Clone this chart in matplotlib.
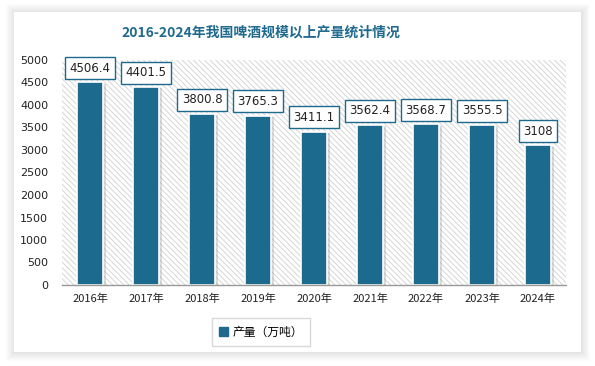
import matplotlib
matplotlib.use("Agg")
import matplotlib.pyplot as plt
from matplotlib.patches import Rectangle
import matplotlib.patches as mpatches
import matplotlib.patheffects as pe

plt.rcParams['font.family'] = ['Noto Sans CJK SC', 'DejaVu Sans']
plt.rcParams['hatch.linewidth'] = 0.7
plt.rcParams['hatch.color'] = '#d6d6d6'

years = ['2016年', '2017年', '2018年', '2019年', '2020年', '2021年', '2022年', '2023年', '2024年']
output = [4506.4, 4401.5, 3800.8, 3765.3, 3411.1, 3562.4, 3568.7, 3555.5, 3108]
labels = ['4506.4', '4401.5', '3800.8', '3765.3', '3411.1', '3562.4', '3568.7', '3555.5', '3108']
yticks = [0, 500, 1000, 1500, 2000, 2500, 3000, 3500, 4000, 4500, 5000]
title = '2016-2024年我国啤酒规模以上产量统计情况'
legend_label = '产量（万吨）'

bar_color = '#1c6a8e'
W, H = 595, 366
fig = plt.figure(figsize=(W/100, H/100), dpi=100)
fig.patch.set_facecolor('white')

# card with soft shadow
cx0, cy0, cx1, cy1 = 14, 12, 581, 352
for d in range(9, 0, -1):
    fig.patches.append(Rectangle(((cx0 - d + 1)/W, (H - cy1 - d)/H), (cx1 - cx0 + 2*d - 1)/W,
                                 (cy1 - cy0 + 2*d - 1)/H,
                                 transform=fig.transFigure, facecolor='black', alpha=0.012,
                                 edgecolor='none', zorder=-2))
fig.patches.append(Rectangle((cx0/W, (H-cy1)/H), (cx1-cx0)/W, (cy1-cy0)/H, transform=fig.transFigure,
                             facecolor='white', edgecolor='none', zorder=-1))

left, right, bottom, top = 62, 566, 285, 60
ax = fig.add_axes([left/W, (H-bottom)/H, (right-left)/W, (bottom-top)/H])
ax.set_zorder(1)
ax.set_facecolor('white')
ax.add_patch(Rectangle((0, 0), 1, 1, transform=ax.transAxes, facecolor='white',
                       hatch='\\\\\\\\\\\\', edgecolor='#d6d6d6', linewidth=0, zorder=0))

x = list(range(len(years)))
bars = ax.bar(x, output, width=0.46, color=bar_color, edgecolor='white', linewidth=1.2, zorder=2)
for b in bars:
    b.set_path_effects([pe.SimplePatchShadow(offset=(2, -1), shadow_rgbFace='#9a9a9a', alpha=0.35),
                        pe.Normal()])
for xi, v, lab in zip(x, output, labels):
    ax.annotate(lab, xy=(xi, v), xytext=(0, 5.5), textcoords='offset points',
                ha='center', va='bottom', fontsize=8.5, color='#222222',
                family=['DejaVu Sans'],
                bbox=dict(boxstyle='square,pad=0.38', facecolor='white', edgecolor='#1c6a8e', linewidth=1.0),
                zorder=3)

ax.set_xlim(-0.5, len(years) - 0.5)
ax.set_ylim(0, 5000)
ax.set_yticks(yticks)
ax.set_yticklabels([str(t) for t in yticks], fontsize=8, color='#222222', family=['DejaVu Sans'])
ax.set_xticks(x)
ax.set_xticklabels(years, fontsize=8, color='#222222')
ax.tick_params(axis='both', length=0)
ax.tick_params(axis='y', pad=10)
ax.tick_params(axis='x', pad=6)
for s in ['top', 'right', 'left']:
    ax.spines[s].set_visible(False)
ax.spines['bottom'].set_color('#999999')
ax.spines['bottom'].set_linewidth(1.0)

fig.text(261/W, (H-33)/H, title, ha='center', va='center', fontsize=10, fontweight='bold',
         color='#1f6a8e')

handle = mpatches.Patch(color=bar_color, label=legend_label)
fig.legend(handles=[handle], loc='center', bbox_to_anchor=(261/W, (H-332)/H), fontsize=8.5,
           frameon=True, fancybox=False, edgecolor='#d0d0d0', handlelength=0.7, handleheight=0.7,
           handletextpad=0.4, borderpad=0.6, borderaxespad=0)

fig.savefig('out.png', dpi=100, facecolor='white')
